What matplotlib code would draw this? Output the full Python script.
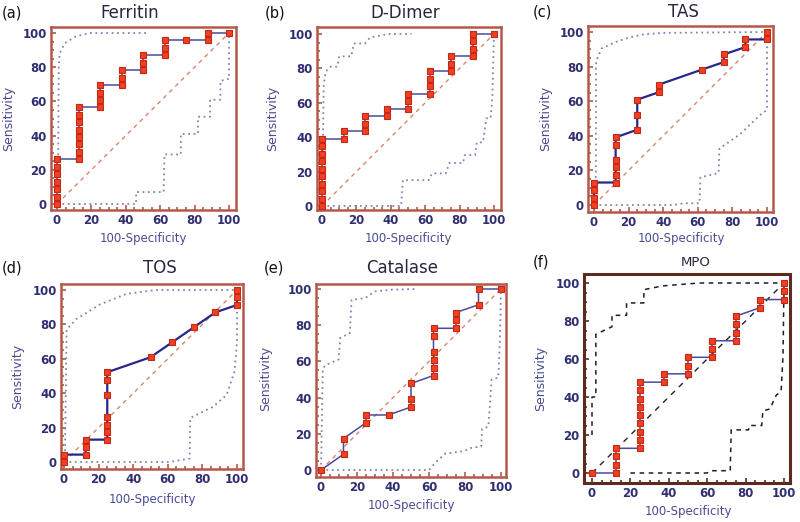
import numpy as np
import matplotlib
matplotlib.use("Agg")
import matplotlib.pyplot as plt
from matplotlib.ticker import MultipleLocator

W, H = 800, 522

# ROC points (100-Specificity, Sensitivity)
ferritin_x = [0, 0, 0, 0, 0, 0, 0, 12.5, 12.5, 12.5, 12.5, 12.5, 12.5, 12.5, 12.5,
              25, 25, 25, 25, 37.5, 37.5, 37.5, 50, 50, 50, 62.5, 62.5, 62.5, 75, 87.5, 87.5, 100]
ferritin_y = [0, 4.3, 8.7, 13.0, 17.4, 21.7, 26.1, 26.1, 30.4, 34.8, 39.1, 43.5, 47.8, 52.2, 56.5,
              56.5, 60.9, 65.2, 69.6, 69.6, 73.9, 78.3, 78.3, 82.6, 87.0, 87.0, 91.3, 95.7, 95.7, 95.7, 100, 100]
ferritin_up_x = [0.5, 1, 1.5, 4.5, 11, 19, 53]
ferritin_up_y = [0, 80, 88, 94, 98, 100, 100]
ferritin_lo_x = [0, 46, 46, 62, 62.5, 72, 72, 82, 82, 89, 89, 95, 95, 99, 100, 100]
ferritin_lo_y = [0, 0, 7, 7, 29, 29, 41, 41, 51, 51, 61, 61, 72, 73, 73, 100]

ddimer_x = [0, 0, 0, 0, 0, 0, 0, 0, 0, 0, 12.5, 12.5, 25, 25, 25, 37.5, 37.5, 50, 50, 50,
            62.5, 62.5, 62.5, 62.5, 75, 75, 75, 87.5, 87.5, 87.5, 87.5, 100]
ddimer_y = [0, 4.3, 8.7, 13.0, 17.4, 21.7, 26.1, 30.4, 34.8, 39.1, 39.1, 43.5, 43.5, 47.8, 52.2,
            52.2, 56.5, 56.5, 60.9, 65.2, 65.2, 69.6, 73.9, 78.3, 78.3, 82.6, 87.0, 87.0, 91.3, 95.7, 100, 100]
ddimer_up_x = [0, 1, 2, 5, 9, 10, 17, 18.5, 25, 28, 38.6, 52]
ddimer_up_y = [0, 70, 78, 81, 81, 87, 87, 94.5, 94.5, 98, 100, 100]
ddimer_lo_x = [0, 46, 47, 62, 64, 72, 74, 82, 83, 89, 90, 93.6, 95.5, 98, 99, 100]
ddimer_lo_y = [0, 0, 15, 15, 19, 19, 25, 25, 29.6, 29.6, 37, 37, 51, 51, 62, 100]

tas_x = [0, 0, 0, 0, 12.5, 12.5, 12.5, 12.5, 12.5, 12.5, 25, 25, 25, 37.5, 37.5, 62.5,
         75, 75, 87.5, 87.5, 100, 100]
tas_y = [0, 4.3, 8.7, 13.0, 13.0, 17.4, 21.7, 26.1, 34.8, 39.1, 43.5, 52.2, 60.9, 65.2, 69.6, 78.3,
         82.6, 87.0, 91.3, 95.7, 95.7, 100]
tas_up_x = [1, 1.2, 4.4, 13, 21, 28.6, 40, 100]
tas_up_y = [0, 83, 90.5, 94.4, 97, 98.6, 99.5, 100]
tas_lo_x = [0, 46, 52, 61, 61.5, 72, 72.5, 84.5, 96, 100, 100]
tas_lo_y = [0, 0, 1, 1, 16, 18.5, 32.6, 41, 52, 55, 100]

tos_x = [0, 0, 12.5, 12.5, 12.5, 25, 25, 25, 25, 25, 25, 25, 50, 62.5, 75, 87.5, 100, 100, 100]
tos_y = [0, 4.3, 4.3, 8.7, 13.0, 13.0, 17.4, 21.7, 26.1, 39.1, 47.8, 52.2, 60.9, 69.6, 78.3, 87.0,
         91.3, 95.7, 100]
tos_up_x = [0.5, 1.5, 7, 20.6, 36, 53, 100]
tos_up_y = [0, 77, 83, 91.5, 97.7, 100, 100]
tos_lo_x = [0, 61, 72.6, 73, 86, 94, 98.6, 100, 100]
tos_lo_y = [0, 0, 2, 25.6, 32, 39, 52.7, 70, 100]

catalase_x = [0, 12.5, 12.5, 25, 25, 37.5, 50, 50, 50, 62.5, 62.5, 62.5, 62.5, 62.5, 62.5,
              75, 75, 75, 87.5, 87.5, 100]
catalase_y = [0, 8.7, 17.4, 26.1, 30.4, 30.4, 34.8, 39.1, 47.8, 52.2, 56.5, 60.9, 65.2, 73.9, 78.3,
              78.3, 82.6, 87.0, 91.3, 100, 100]
catalase_up_x = [0, 1, 2.5, 9.8, 10.7, 16, 17, 24.6, 30, 39, 53]
catalase_up_y = [0, 56, 58, 61, 73, 75.6, 94, 95, 98.7, 99.6, 100]
catalase_lo_x = [0, 60, 63.4, 69, 80, 82, 89, 89.5, 93, 94.8, 98.5, 99.5, 100]
catalase_lo_y = [0, 0, 4, 9, 10.5, 12, 13, 22.7, 24, 50, 51, 75, 100]

mpo_x = [0, 12.5, 12.5, 12.5, 12.5, 25, 25, 25, 25, 25, 25, 25, 25, 25, 37.5, 37.5, 50, 50, 50,
         62.5, 62.5, 62.5, 75, 75, 75, 75, 87.5, 87.5, 100, 100, 100]
mpo_y = [0, 0, 4.3, 8.7, 13.0, 13.0, 17.4, 21.7, 26.1, 30.4, 34.8, 39.1, 43.5, 47.8, 47.8, 52.2,
         52.2, 56.5, 60.9, 60.9, 65.2, 69.6, 69.6, 73.9, 78.3, 82.6, 87.0, 91.3, 91.3, 95.7, 100]
mpo_up_x = [0, 0, 2, 2, 10.4, 10.4, 18, 18, 27, 27, 37, 56, 100]
mpo_up_y = [20, 40, 40, 73, 77, 83, 83, 89.5, 89.5, 96.5, 98.5, 100, 100]
mpo_lo_x = [20, 60, 61.5, 72, 72.5, 81.5, 82, 88.4, 89, 92.7, 94, 96, 98.5, 99.5, 100]
mpo_lo_y = [0, 0, 1.2, 1.2, 22.7, 22.7, 25, 25, 32.7, 33.7, 36.7, 41, 43, 62, 100]

titles = ["Ferritin", "D-Dimer", "TAS", "TOS", "Catalase", "MPO"]
letters = ["(a)", "(b)", "(c)", "(d)", "(e)", "(f)"]

# frame box (l, t, r, b) and data pixel map (x0, x100, y0, y100), in image pixels
frames = [(51, 27, 236, 210), (317, 27, 501, 210), (588, 26, 773, 212),
          (61, 284, 243, 469), (316, 284, 506, 477), (584, 274, 790, 483)]
dmaps = [(57, 229, 204, 33), (322, 494, 206, 34), (594, 767, 205, 32),
         (64, 237, 462, 290), (321, 501, 470, 289), (592, 784, 473, 283)]
title_pos = [(130, 13), (405, 13), (683, 12), (160, 268), (402, 268), (696, 262)]
letter_pos = [(2, 13), (265, 13), (533, 12), (2, 268), (264, 268), (533, 262)]
ylab_pos = [(9, 118), (273, 118), (546, 118), (18, 376), (266, 378), (541, 378)]
xlab_pos = [(143, 238), (408, 238), (681, 238), (152, 499), (411, 506), (688, 512)]

series = [
    (ferritin_x, ferritin_y, ferritin_up_x, ferritin_up_y, ferritin_lo_x, ferritin_lo_y),
    (ddimer_x, ddimer_y, ddimer_up_x, ddimer_up_y, ddimer_lo_x, ddimer_lo_y),
    (tas_x, tas_y, tas_up_x, tas_up_y, tas_lo_x, tas_lo_y),
    (tos_x, tos_y, tos_up_x, tos_up_y, tos_lo_x, tos_lo_y),
    (catalase_x, catalase_y, catalase_up_x, catalase_up_y, catalase_lo_x, catalase_lo_y),
    (mpo_x, mpo_y, mpo_up_x, mpo_up_y, mpo_lo_x, mpo_lo_y),
]

NAVY = "#2f2f72"
LABEL = "#4a4a92"

fig = plt.figure(figsize=(W / 100, H / 100), dpi=100)
fig.patch.set_facecolor("white")

for i, (rx, ry, ux, uy, lx, ly) in enumerate(series):
    l, t, r, b = frames[i]
    x0, x100, y0, y100 = dmaps[i]
    ax = fig.add_axes([l / W, 1 - b / H, (r - l) / W, (b - t) / H])
    sx = (x100 - x0) / 100.0
    sy = (y0 - y100) / 100.0
    ax.set_xlim(-(x0 - l) / sx, 100 + (r - x100) / sx)
    ax.set_ylim(-(b - y0) / sy, 100 + (y100 - t) / sy)

    is_mpo = i == 5
    frame_col = "#5c2a1e" if is_mpo else "#b5584a"
    band_col = "#1c1c2c" if is_mpo else "#7c88b2"
    diag_col = "#222222" if is_mpo else "#d9866c"

    # reference diagonal
    ax.plot([0, 100], [0, 100], color=diag_col, lw=1.0,
            ls=(0, (4, 4)) if is_mpo else (0, (3, 3)))
    # confidence bands
    band_ls = (0, (3, 3)) if is_mpo else (0, (1, 2))
    band_lw = 1.1 if is_mpo else 1.3
    ax.plot(ux, uy, color=band_col, lw=band_lw, ls=band_ls)
    ax.plot(lx, ly, color=band_col, lw=band_lw, ls=band_ls)
    # ROC curve
    line_col = "#26268c" if i in (2, 3) else "#4a4a9c"
    line_lw = 1.6 if i in (2, 3) else 1.1
    ax.plot(rx, ry, color=line_col, lw=line_lw, zorder=3)
    ax.plot(rx, ry, ls="none", marker="s", ms=4.5, mfc="#f2401f", mec="#c0281a",
            mew=0.8, zorder=4)

    for sp in ax.spines.values():
        sp.set_color(frame_col)
        sp.set_linewidth(2.2 if is_mpo else 1.8)

    ax.set_xticks(np.arange(0, 101, 20))
    ax.set_yticks(np.arange(0, 101, 20))
    ax.xaxis.set_minor_locator(MultipleLocator(5))
    ax.yaxis.set_minor_locator(MultipleLocator(5))
    ax.tick_params(which="both", direction="in", color=frame_col, width=1.2)
    ax.tick_params(which="major", length=3.5, labelsize=8.5, labelcolor=NAVY, pad=3)
    ax.tick_params(which="minor", length=2.5)
    for lab in ax.get_xticklabels() + ax.get_yticklabels():
        lab.set_fontweight("bold")

    tx, ty = title_pos[i]
    fig.text(tx / W, 1 - ty / H, titles[i], ha="center", va="center",
             fontsize=9.5 if is_mpo else 12, color="#262640")
    px, py = letter_pos[i]
    fig.text(px / W, 1 - py / H, letters[i], ha="left", va="center",
             fontsize=10.5, color="#111111")
    yx, yy = ylab_pos[i]
    fig.text(yx / W, 1 - yy / H, "Sensitivity", ha="center", va="center",
             rotation=90, fontsize=9, color=LABEL)
    xx, xy = xlab_pos[i]
    fig.text(xx / W, 1 - xy / H, "100-Specificity", ha="center", va="center",
             fontsize=8.5, color=LABEL)

fig.savefig("out.png", dpi=100)
